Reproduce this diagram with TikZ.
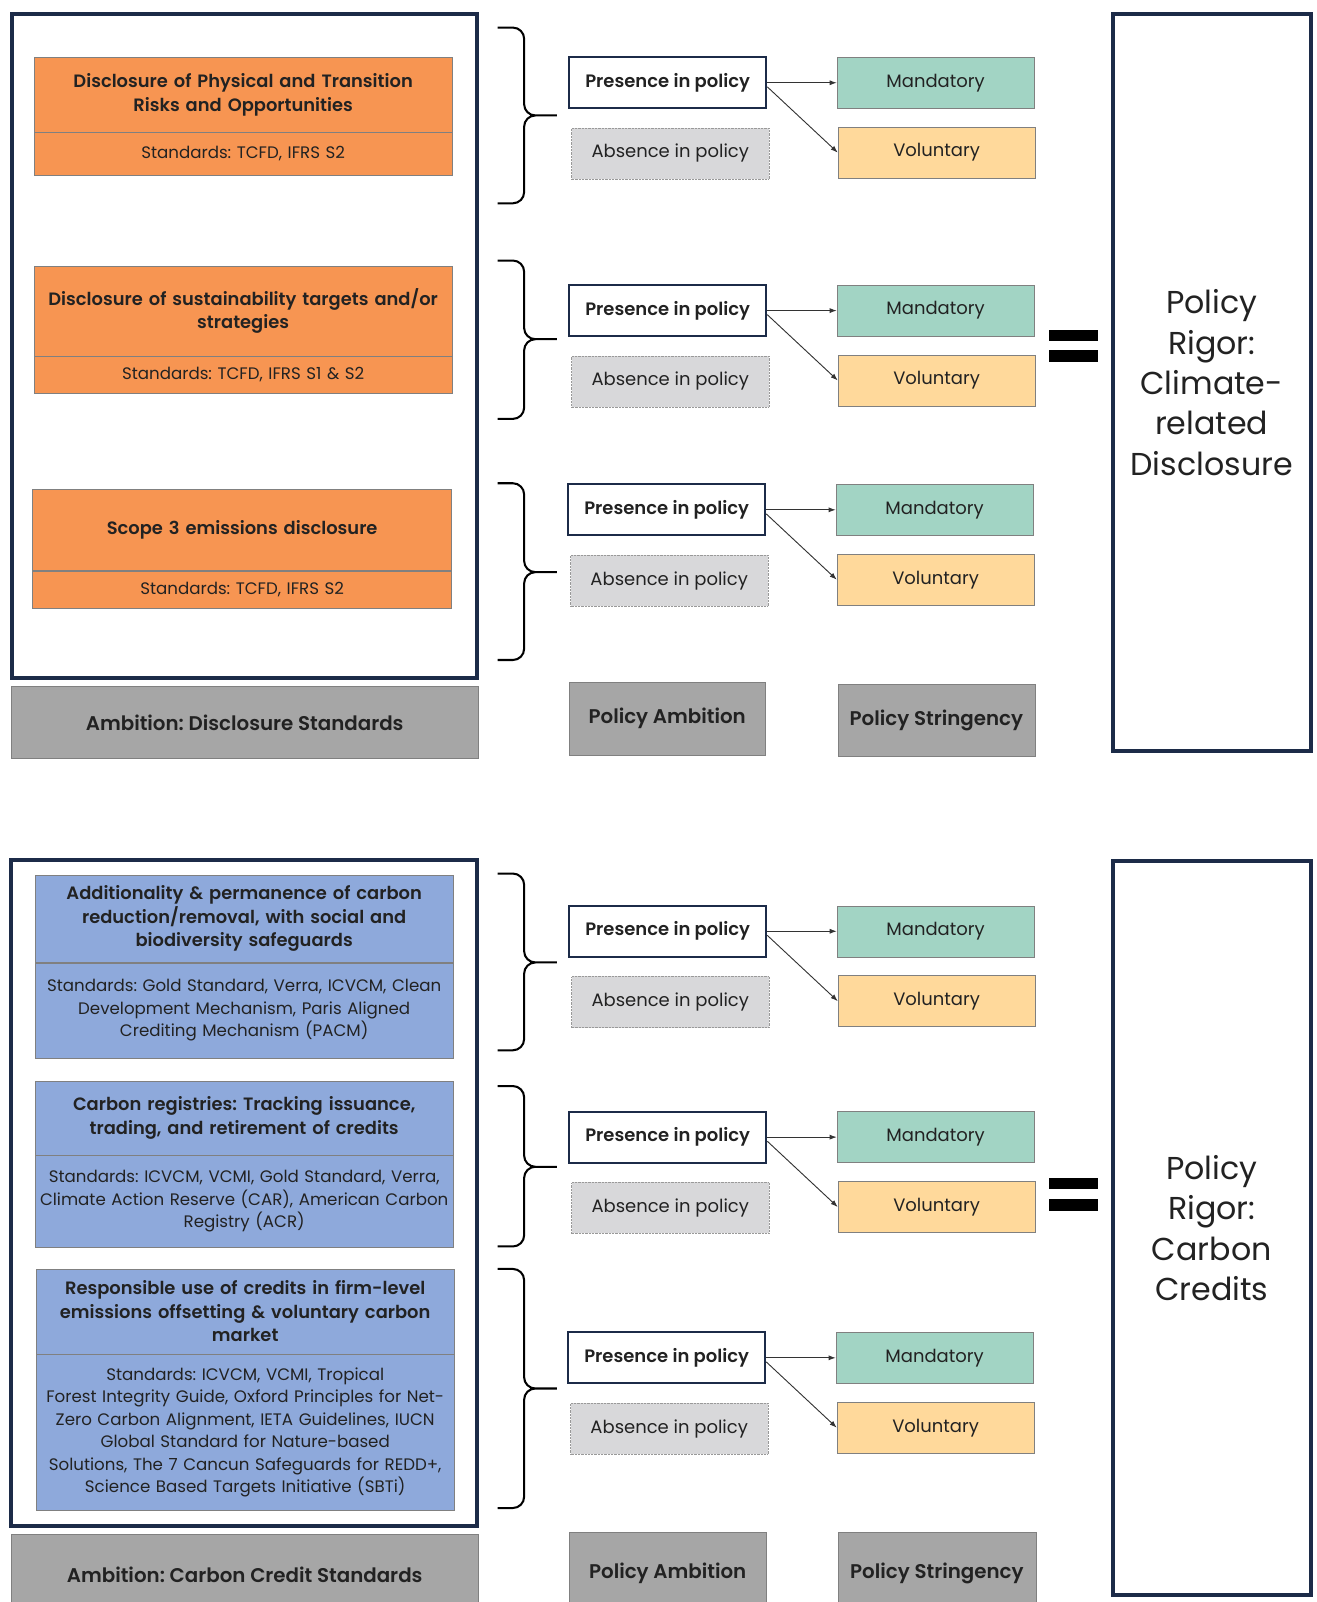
\documentclass[tikz,border=0pt]{standalone}
\usepackage{fontspec}
\setmainfont{Poppins}[BoldFont={Poppins SemiBold}]
\frenchspacing
\usepackage{tikz}
\usetikzlibrary{positioning}
\usetikzlibrary{arrows.meta}

\definecolor{navy}{HTML}{1C2B48}
\definecolor{riskorange}{HTML}{F79552}
\definecolor{creditblue}{HTML}{8EA9DB}
\definecolor{mandgreen}{HTML}{A2D4C4}
\definecolor{volyellow}{HTML}{FFD99B}
\definecolor{taggray}{HTML}{A6A6A6}
\definecolor{absgray}{HTML}{D8D8DA}
\definecolor{inkdark}{HTML}{222222}

\begin{document}
\begin{tikzpicture}[
    x=1pt, y=-1pt,
    >={Latex[length=7pt, width=5pt]},
    node distance=18pt,
    every node/.style={text=inkdark},
    frame/.style={
        draw=navy,
        line width=4pt,
    },
    topic/.style={
        draw=black!50,
        fill=#1,
        anchor=north,
        minimum width=410pt,
        text width=408pt,
        align=center,
        inner sep=0pt,
        font=\fontsize{17.5}{23}\selectfont\bfseries
    },
    stds/.style={
        topic=#1,
        font=\fontsize{16.3}{22}\selectfont
    },
    rowbox/.style={
        draw=black!50,
        minimum width=193pt,
        minimum height=50pt,
        inner sep=0pt,
        font=\fontsize{17.6}{20}\selectfont
    },
    presence/.style={
        rowbox,
        draw=navy,
        line width=2pt,
        fill=white,
        font=\fontsize{17.6}{20}\selectfont\bfseries
    },
    absence/.style={
        rowbox,
        draw=black!40,
        densely dotted,
        fill=absgray
    },
    mandatory/.style={
        rowbox,
        fill=mandgreen
    },
    voluntary/.style={
        rowbox,
        fill=volyellow
    },
    tag/.style={
        draw=black!50,
        fill=taggray,
        inner sep=0pt,
        font=\fontsize{19.4}{22}\selectfont\bfseries
    },
    rigor/.style={
        draw=navy,
        line width=4pt,
        minimum width=194pt,
        align=center,
        font=\fontsize{31}{39.5}\selectfont
    },
    brc/.style={
        line width=2pt,
        rounded corners=11pt
    },
    conn/.style={
        ->,
        line width=0.9pt,
        draw=black!80
    },
    eqbar/.style={
        fill=black
    }
]

\useasboundingbox (0,0) rectangle (1289,1568);
\clip (0,0) rectangle (1289,1568);

\node[frame, minimum width=455pt, minimum height=650pt] (left1) at (239.5,339) {};
\node[tag, minimum width=457pt, minimum height=70pt] (amb1) at (239.5,707) {Ambition: Disclosure Standards};

\node[topic=riskorange, minimum height=73pt] (risk) at (238,56) {Disclosure of Physical and Transition\\Risks and Opportunities};
\node[stds=riskorange, minimum height=42pt, below=0pt of risk] (riskstd) {Standards: TCFD, IFRS S2};
\node[topic=riskorange, minimum height=88pt] (target) at (238,260) {Disclosure of sustainability targets and/or\\strategies};
\node[stds=riskorange, minimum height=36pt, below=0pt of target] (targetstd) {Standards: TCFD, IFRS S1 \& S2};
\node[topic=riskorange, minimum height=79pt] (scope) at (237,479) {Scope 3 emissions disclosure};
\node[stds=riskorange, minimum height=37pt, below=0pt of scope] (scopestd) {Standards: TCFD, IFRS S2};

\draw[brc] (487,27) -| (513,113) -- (545,113) (487,199) -| (513,113) -- (545,113);
\draw[brc] (487,255) -| (513,332) -- (545,332) (487,410) -| (513,332) -- (545,332);
\draw[brc] (487,473) -| (513,560) -- (545,560) (487,646) -| (513,560) -- (545,560);

\node[presence] (pres1) at (653.5,81) {Presence in policy};
\node[absence, below=of pres1, xshift=2.5pt] (abs1) {Absence in policy};
\node[mandatory, right=68pt of pres1] (mand1) {Mandatory};
\node[voluntary, below=of mand1, xshift=1pt] (vol1) {Voluntary};
\draw[conn] (pres1) -- (mand1);
\draw[conn] ([yshift=-4pt]pres1.east) -- (vol1.west);

\node[presence] (pres2) at (653.5,304) {Presence in policy};
\node[absence, below=of pres2, xshift=2.5pt] (abs2) {Absence in policy};
\node[mandatory, right=68pt of pres2] (mand2) {Mandatory};
\node[voluntary, below=of mand2, xshift=1pt] (vol2) {Voluntary};
\draw[conn] (pres2) -- (mand2);
\draw[conn] ([yshift=-4pt]pres2.east) -- (vol2.west);

\node[presence] (pres3) at (652.5,499) {Presence in policy};
\node[absence, below=of pres3, xshift=2.5pt] (abs3) {Absence in policy};
\node[mandatory, right=68pt of pres3] (mand3) {Mandatory};
\node[voluntary, below=of mand3, xshift=1pt] (vol3) {Voluntary};
\draw[conn] (pres3) -- (mand3);
\draw[conn] ([yshift=-4pt]pres3.east) -- (vol3.west);

\node[tag, minimum width=192pt, minimum height=71pt] (pamb1) at (653,703.5) {Policy Ambition};
\node[tag, minimum width=193pt, minimum height=70pt] (pstr1) at (916.5,705) {Policy Stringency};

\fill[eqbar] (1027,323) rectangle (1075,334);
\fill[eqbar] (1027,343) rectangle (1075,354);
\node[rigor, minimum height=721pt] (rigor1) at (1186,374.5) {Policy\\Rigor:\\Climate-\\related\\Disclosure};

\node[frame, minimum width=456pt, minimum height=652pt] (left2) at (239,1168) {};
\node[tag, minimum width=457pt, minimum height=78pt] (amb2) at (239.5,1541) {Ambition: Carbon Credit Standards};

\node[topic=creditblue, minimum height=86pt] (addit) at (239,856) {Additionality \& permanence of carbon\\reduction/removal, with social and\\biodiversity safeguards};
\node[stds=creditblue, minimum height=93pt, below=0pt of addit] (additstd) {Standards: Gold Standard, Verra, ICVCM, Clean\\Development Mechanism, Paris Aligned\\Crediting Mechanism (PACM)};
\node[topic=creditblue, minimum height=72pt] (registry) at (239,1058) {Carbon registries: Tracking issuance,\\trading, and retirement of credits};
\node[stds=creditblue, minimum height=90pt, below=0pt of registry] (registrystd) {Standards: ICVCM, VCMI, Gold Standard, Verra,\\Climate Action Reserve (CAR), American Carbon\\Registry (ACR)};
\node[topic=creditblue, minimum height=83pt] (offset) at (240,1242) {Responsible use of credits in firm-level\\emissions offsetting \& voluntary carbon\\market};
\node[stds=creditblue, minimum height=153pt, below=0pt of offset] (offsetstd) {Standards: ICVCM, VCMI, Tropical\\Forest Integrity Guide, Oxford Principles for Net-\\Zero Carbon Alignment, IETA Guidelines, IUCN\\Global Standard for Nature-based\\Solutions, The 7 Cancun Safeguards for REDD+,\\Science Based Targets Initiative (SBTi)};

\draw[brc] (487,855) -| (513,942) -- (545,942) (487,1028) -| (513,942) -- (545,942);
\draw[brc] (487,1063) -| (513,1142) -- (545,1142) (487,1220) -| (513,1142) -- (545,1142);
\draw[brc] (487,1242) -| (513,1359) -- (545,1359) (487,1476) -| (513,1359) -- (545,1359);

\node[presence] (pres4) at (653.5,911.5) {Presence in policy};
\node[absence, below=of pres4, xshift=2.5pt] (abs4) {Absence in policy};
\node[mandatory, right=68pt of pres4] (mand4) {Mandatory};
\node[voluntary, below=of mand4, xshift=1pt] (vol4) {Voluntary};
\draw[conn] (pres4) -- (mand4);
\draw[conn] ([yshift=-4pt]pres4.east) -- (vol4.west);

\node[presence] (pres5) at (653.5,1113) {Presence in policy};
\node[absence, below=of pres5, xshift=2.5pt] (abs5) {Absence in policy};
\node[mandatory, right=68pt of pres5] (mand5) {Mandatory};
\node[voluntary, below=of mand5, xshift=1pt] (vol5) {Voluntary};
\draw[conn] (pres5) -- (mand5);
\draw[conn] ([yshift=-4pt]pres5.east) -- (vol5.west);

\node[presence] (pres6) at (652.5,1329) {Presence in policy};
\node[absence, below=of pres6, xshift=2.5pt] (abs6) {Absence in policy};
\node[mandatory, right=68pt of pres6] (mand6) {Mandatory};
\node[voluntary, below=of mand6, xshift=1pt] (vol6) {Voluntary};
\draw[conn] (pres6) -- (mand6);
\draw[conn] ([yshift=-4pt]pres6.east) -- (vol6.west);

\node[tag, minimum width=193pt, minimum height=80pt] (pamb2) at (653.5,1540) {Policy Ambition};
\node[tag, minimum width=194pt, minimum height=80pt] (pstr2) at (917,1540) {Policy Stringency};

\fill[eqbar] (1027,1153) rectangle (1075,1164);
\fill[eqbar] (1027,1174) rectangle (1075,1185);
\node[rigor, minimum height=718pt] (rigor2) at (1186,1202) {Policy\\Rigor:\\Carbon\\Credits};
\end{tikzpicture}
\end{document}
